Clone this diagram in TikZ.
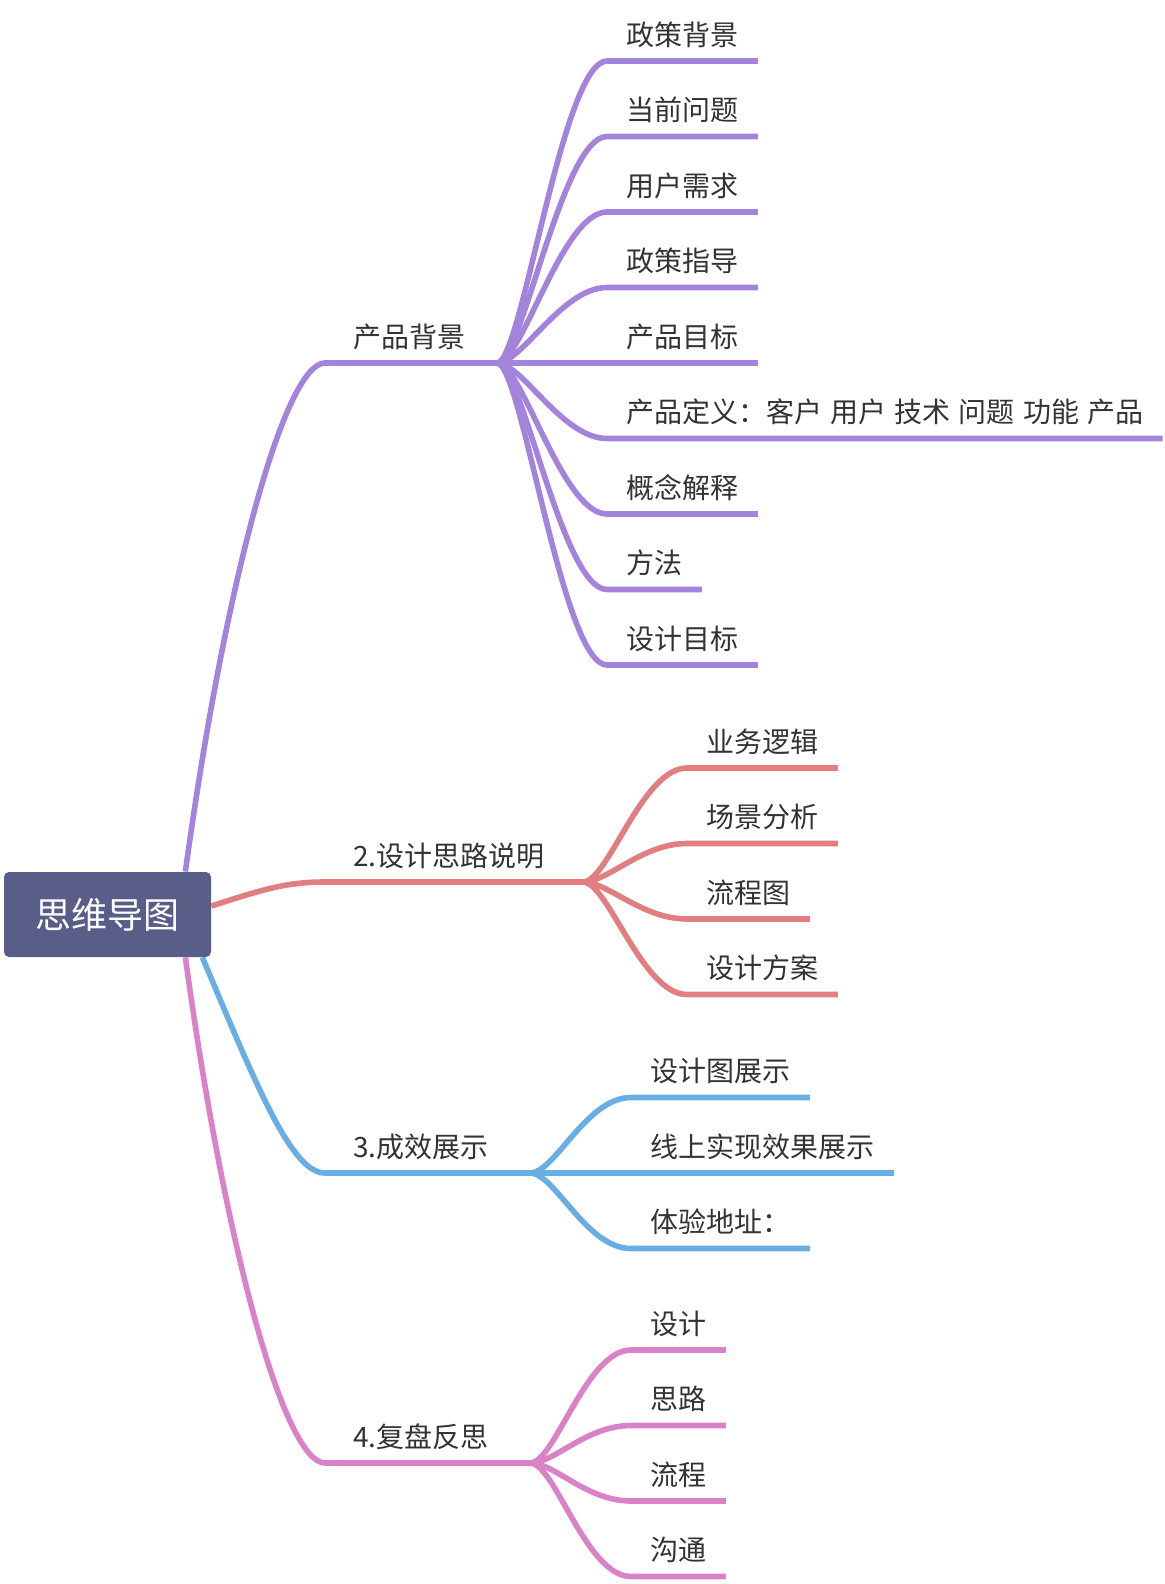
\documentclass[tikz,border=0pt]{standalone}
\usepackage{fontspec}
\setmainfont[WordSpace=1.3]{Noto Sans CJK SC}
\usepackage{tikz}
\usetikzlibrary{backgrounds}
\usepackage{xcolor}
\definecolor{rootC}{HTML}{585E88}
\definecolor{purpleC}{HTML}{A383DC}
\definecolor{redC}{HTML}{E07E80}
\definecolor{blueC}{HTML}{68AEE2}
\definecolor{pinkC}{HTML}{DA82C8}
\definecolor{textC}{HTML}{333333}

\begin{document}
\begin{tikzpicture}[x=0.5pt,y=-0.5pt,line cap=round,
  leaf/.style={anchor=south west,inner xsep=9.5pt,inner ysep=7.7pt,text depth=0pt,text=textC,font=\fontsize{14pt}{17pt}\selectfont},
  topic/.style={leaf,inner xsep=14pt},
  link/.style={line width=2.8pt}]
\useasboundingbox (0,0) rectangle (1164,1584);
\node[fill=rootC,rounded corners=2.5pt,minimum width=103.5pt,minimum height=42.5pt,inner sep=0pt,text=white,font=\fontsize{18pt}{20pt}\selectfont] (root) at (107.5,914.5) {思维导图};
% topics
\node[topic] (bg) at (325,363) {产品背景};
\node[topic] (sj) at (325,882) {2.设计思路说明};
\node[topic] (cx) at (325,1173) {3.成效展示};
\node[topic] (fp) at (325,1463) {4.复盘反思};
\coordinate (bgf) at (497,363);
\coordinate (sjf) at (583,882);
\coordinate (cxf) at (530,1173);
\coordinate (fpf) at (530,1463);
% leaves
\node[leaf] (bg1) at (607,61) {政策背景};
\node[leaf] (bg2) at (607,136.5) {当前问题};
\node[leaf] (bg3) at (607,212) {用户需求};
\node[leaf] (bg4) at (607,287.5) {政策指导};
\node[leaf] (bg5) at (607,363) {产品目标};
\node[leaf] (bg6) at (607,438.5) {产品定义：客户 用户 技术 问题 功能 产品};
\node[leaf] (bg7) at (607,514) {概念解释};
\node[leaf] (bg8) at (607,589.5) {方法};
\node[leaf] (bg9) at (607,665) {设计目标};
\node[leaf] (sj1) at (687,768) {业务逻辑};
\node[leaf] (sj2) at (687,843.5) {场景分析};
\node[leaf] (sj3) at (687,919) {流程图};
\node[leaf] (sj4) at (687,994.5) {设计方案};
\node[leaf] (cx1) at (631,1097.5) {设计图展示};
\node[leaf] (cx2) at (631,1173) {线上实现效果展示};
\node[leaf] (cx3) at (631,1248.5) {体验地址：};
\node[leaf] (fp1) at (631,1350) {设计};
\node[leaf] (fp2) at (631,1425.5) {思路};
\node[leaf] (fp3) at (631,1501) {流程};
\node[leaf] (fp4) at (631,1576.5) {沟通};

\begin{scope}[on background layer]
\draw[link,purpleC] ([xshift=-13pt]root.north east) .. controls +(40,-292) and +(-40,0) .. (bg.south west) -- (bgf);
\draw[link,redC] ([yshift=4.25pt]root.east) .. controls +(50,-16) and +(-40,0) .. (sj.south west) -- (sjf);
\draw[link,blueC] ([xshift=-4.5pt]root.south east) .. controls +(56,133) and +(-33,0) .. (cx.south west) -- (cxf);
\draw[link,pinkC] ([xshift=-13pt]root.south east) .. controls +(40,293) and +(-40,0) .. (fp.south west) -- (fpf);
\foreach \i in {1,...,9}
  \draw[link,purpleC] (bgf) .. controls +(25,0) and +(-45,0) .. (bg\i.south west) -- (bg\i.south east);
\foreach \i in {1,...,4}
  \draw[link,redC] (sjf) .. controls +(25,0) and +(-45,0) .. (sj\i.south west) -- (sj\i.south east);
\foreach \i in {1,...,3}
  \draw[link,blueC] (cxf) .. controls +(25,0) and +(-45,0) .. (cx\i.south west) -- (cx\i.south east);
\foreach \i in {1,...,4}
  \draw[link,pinkC] (fpf) .. controls +(25,0) and +(-45,0) .. (fp\i.south west) -- (fp\i.south east);
\end{scope}
\end{tikzpicture}
\end{document}
